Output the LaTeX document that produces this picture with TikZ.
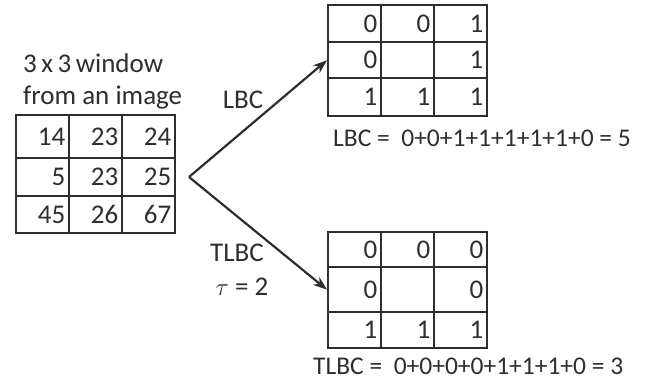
\documentclass[tikz,border=0pt]{standalone}
\usepackage{fontspec}
\setmainfont{Carlito}
\usetikzlibrary{arrows.meta}
\definecolor{ink}{HTML}{2E2E2E}
\tikzset{
  cell/.style={draw=ink, line width=2.4pt, anchor=north west, inner xsep=4pt, inner ysep=0pt,
     minimum width=53pt, text width=45pt, align=right, text=ink, font=\fontsize{27}{27}\selectfont},
  lbl/.style={text=ink, font=\fontsize{27}{28}\selectfont, inner sep=0pt},
  frm/.style={text=ink, font=\fontsize{25.5}{26}\selectfont, inner sep=0pt},
  conn/.style={draw=ink, line width=2.2pt, -{Stealth[length=14pt,width=10pt]}}
}
\begin{document}
\begin{tikzpicture}[x=1pt,y=-1pt]
\useasboundingbox (0,0) rectangle (656,384);
% left table
\node[cell, minimum height=43pt] (L11) at (15,114) {14};
\node[cell, minimum height=43pt] (L12) at (68,114) {23};
\node[cell, minimum height=43pt] (L13) at (121,114) {24};
\node[cell, minimum height=38pt] (L21) at (15,157) {5};
\node[cell, minimum height=38pt] (L22) at (68,157) {23};
\node[cell, minimum height=38pt] (L23) at (121,157) {25};
\node[cell, minimum height=37pt] (L31) at (15,195) {45};
\node[cell, minimum height=37pt] (L32) at (68,195) {26};
\node[cell, minimum height=37pt] (L33) at (121,195) {67};
\node[lbl, anchor=west] (t1) at (23,63) {3\hspace{4.5pt}x\hspace{4.5pt}3\hspace{4.5pt}window};
\node[lbl, anchor=west] (t2) at (23,98) {from an image};
% top right table
\node[cell, minimum height=37pt] (T11) at (327,4) {0};
\node[cell, minimum height=37pt] (T12) at (380,4) {0};
\node[cell, minimum height=37pt] (T13) at (433,4) {1};
\node[cell, minimum height=36pt] (T21) at (327,41) {0};
\node[cell, minimum height=36pt] (T22) at (380,41) {};
\node[cell, minimum height=36pt] (T23) at (433,41) {1};
\node[cell, minimum height=38pt] (T31) at (327,77) {1};
\node[cell, minimum height=38pt] (T32) at (380,77) {1};
\node[cell, minimum height=38pt] (T33) at (433,77) {1};
\node[frm, anchor=west] (f1) at (333,138) {LBC =\ \ 0+0+1+1+1+1+1+0 = 5};
% bottom right table
\node[cell, minimum height=35pt] (B11) at (327,231) {0};
\node[cell, minimum height=35pt] (B12) at (380,231) {0};
\node[cell, minimum height=35pt] (B13) at (433,231) {0};
\node[cell, minimum height=45pt] (B21) at (327,266) {0};
\node[cell, minimum height=45pt] (B22) at (380,266) {};
\node[cell, minimum height=45pt] (B23) at (433,266) {0};
\node[cell, minimum height=36pt] (B31) at (327,311) {1};
\node[cell, minimum height=36pt] (B32) at (380,311) {1};
\node[cell, minimum height=36pt] (B33) at (433,311) {1};
\node[frm, anchor=west] (f2) at (313,366) {TLBC =\ \ 0+0+0+0+1+1+1+0 = 3};
% labels
\node[lbl] (lbc) at (243,100) {LBC};
\node[lbl] (tlbc) at (237,253) {TLBC};
\node[lbl] (tau) at (242,287) {$\tau$ = 2};
% connectors
\coordinate (apex) at (189,177);
\draw[conn] (apex) -- (T21.west);
\draw[conn] (apex) -- (B21.west);
\end{tikzpicture}
\end{document}
